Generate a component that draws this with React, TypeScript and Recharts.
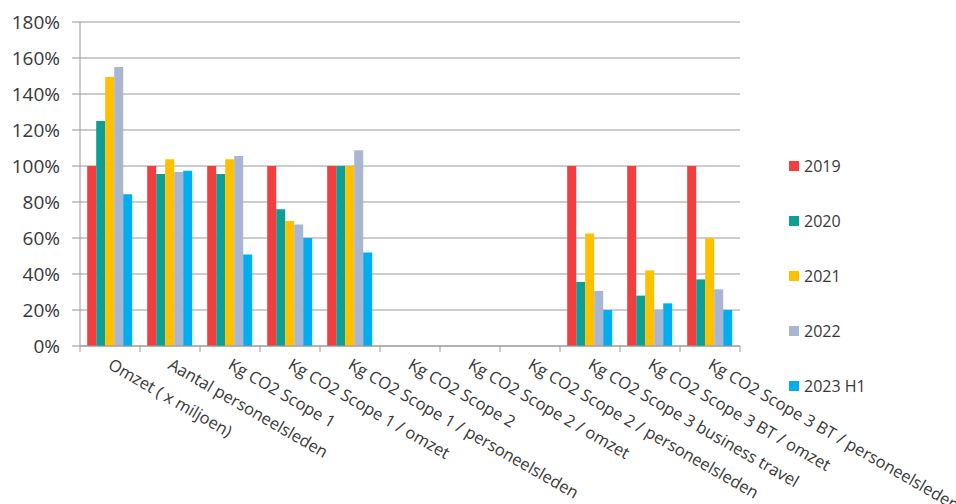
import { Bar, BarChart, CartesianGrid, XAxis, YAxis } from 'recharts'

const categories = [
  'Omzet ( x miljoen)',
  'Aantal personeelsleden',
  'Kg CO2 Scope 1',
  'Kg CO2 Scope 1 / omzet',
  'Kg CO2 Scope 1 / personeelsleden',
  'Kg CO2 Scope 2',
  'Kg CO2 Scope 2 / omzet',
  'Kg CO2 Scope 2 / personeelsleden',
  'Kg CO2 Scope 3 business travel',
  'Kg CO2 Scope 3 BT / omzet',
  'Kg CO2 Scope 3 BT / personeelsleden',
]

const v2019 = [100, 100, 100, 100, 100, null, null, null, 100, 100, 100]
const v2020 = [125, 95.6, 95.6, 76, 100, null, null, null, 35.6, 28, 37]
const v2021 = [149.5, 103.7, 103.7, 69.5, 100, null, null, null, 62.5, 42, 60]
const v2022 = [155, 96.7, 105.6, 67.5, 108.7, null, null, null, 30.6, 20, 31.5]
const v2023 = [84.3, 97.4, 50.8, 60, 52, null, null, null, 20, 23.7, 20]

const yTicks = [0, 20, 40, 60, 80, 100, 120, 140, 160, 180]

const series = [
  { key: 's2019', name: '2019', color: '#F23E3E', values: v2019 },
  { key: 's2020', name: '2020', color: '#0E9E94', values: v2020 },
  { key: 's2021', name: '2021', color: '#FFC000', values: v2021 },
  { key: 's2022', name: '2022', color: '#A9B6D3', values: v2022 },
  { key: 's2023', name: '2023 H1', color: '#00AEEF', values: v2023 },
]

const data = categories.map((label, i) => {
  const row: Record<string, string | number | null> = { label }
  series.forEach((s) => {
    row[s.key] = s.values[i]
  })
  return row
})

const W = 956
const H = 504
const margin = { top: 22, right: 216, left: 0, bottom: 0 }
const yAxisW = 80
const bandW = (W - margin.left - margin.right - yAxisW) / categories.length
const GRID = '#9a9a9a'
const TEXT = '#383838'
const FONT = '"Open Sans", sans-serif'

function CategoryTick(props: any) {
  const { x, y, payload, index } = props
  const last = index === categories.length - 1
  const tx = x - 3
  const ty = y + 22
  return (
    <g>
      <line x1={x - bandW / 2} x2={x - bandW / 2} y1={y} y2={y + 6} stroke={GRID} />
      {last && <line x1={x + bandW / 2} x2={x + bandW / 2} y1={y} y2={y + 6} stroke={GRID} />}
      <text
        x={tx}
        y={ty}
        transform={`rotate(30, ${tx}, ${ty})`}
        textAnchor="start"
        fontSize={16.5}
        fill={TEXT}
        fontFamily={FONT}
      >
        {payload.value}
      </text>
    </g>
  )
}

export default function App() {
  return (
    <div style={{ position: 'absolute', left: 0, top: 0, width: W, height: H, fontFamily: FONT, background: '#fff' }}>
      <BarChart width={W} height={H} data={data} margin={margin} barCategoryGap="12%" barGap={0}>
        <CartesianGrid vertical={false} stroke={GRID} />
        <XAxis
          dataKey="label"
          interval={0}
          height={158}
          tickLine={false}
          tickSize={0}
          tickMargin={0}
          axisLine={{ stroke: GRID }}
          tick={<CategoryTick />}
        />
        <YAxis
          width={yAxisW}
          domain={[0, 180]}
          ticks={yTicks}
          interval={0}
          tickFormatter={(v) => `${v}%`}
          tickSize={8}
          tickMargin={12}
          tickLine={{ stroke: GRID }}
          axisLine={{ stroke: GRID }}
          tick={{ fontSize: 19, fill: TEXT, fontFamily: FONT }}
        />
        {series.map((s) => (
          <Bar key={s.key} dataKey={s.key} name={s.name} fill={s.color} isAnimationActive={false} />
        ))}
      </BarChart>
      <div style={{ position: 'absolute', left: 789, top: 138, display: 'flex', flexDirection: 'column' }}>
        {series.map((s) => (
          <div key={s.key} style={{ height: 55, display: 'flex', alignItems: 'center', gap: 5 }}>
            <span style={{ width: 10, height: 10, background: s.color, display: 'inline-block' }} />
            <span style={{ fontSize: 16, color: TEXT }}>{s.name}</span>
          </div>
        ))}
      </div>
    </div>
  )
}
